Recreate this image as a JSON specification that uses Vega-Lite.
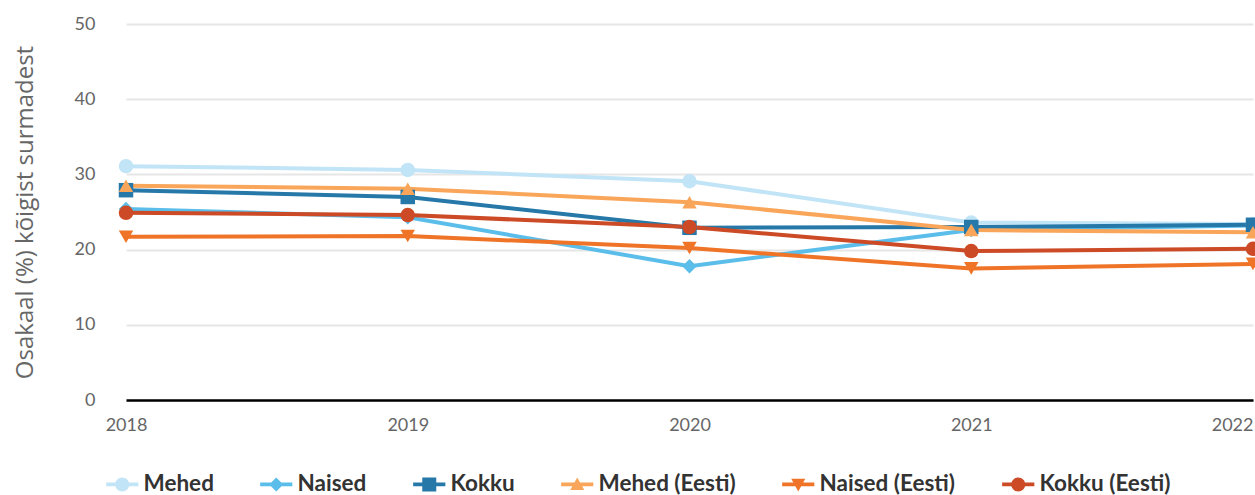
{
  "$schema": "https://vega.github.io/schema/vega-lite/v6.json",
  "width": 1127,
  "height": 376,
  "autosize": {"type": "none"},
  "padding": {"left": 126, "top": 24, "right": 2, "bottom": 95},
  "background": "white",
  "config": {"view": {"stroke": null}},
  "data": {"values": [
    {"year": 2018, "series": "Mehed", "value": 31.1},
    {"year": 2019, "series": "Mehed", "value": 30.6},
    {"year": 2020, "series": "Mehed", "value": 29.1},
    {"year": 2021, "series": "Mehed", "value": 23.6},
    {"year": 2022, "series": "Mehed", "value": 23.4},
    {"year": 2018, "series": "Naised", "value": 25.4},
    {"year": 2019, "series": "Naised", "value": 24.3},
    {"year": 2020, "series": "Naised", "value": 17.8},
    {"year": 2021, "series": "Naised", "value": 22.6},
    {"year": 2022, "series": "Naised", "value": 23.2},
    {"year": 2018, "series": "Kokku", "value": 27.9},
    {"year": 2019, "series": "Kokku", "value": 27.0},
    {"year": 2020, "series": "Kokku", "value": 22.9},
    {"year": 2021, "series": "Kokku", "value": 23.0},
    {"year": 2022, "series": "Kokku", "value": 23.3},
    {"year": 2018, "series": "Mehed (Eesti)", "value": 28.5},
    {"year": 2019, "series": "Mehed (Eesti)", "value": 28.1},
    {"year": 2020, "series": "Mehed (Eesti)", "value": 26.3},
    {"year": 2021, "series": "Mehed (Eesti)", "value": 22.6},
    {"year": 2022, "series": "Mehed (Eesti)", "value": 22.3},
    {"year": 2018, "series": "Naised (Eesti)", "value": 21.7},
    {"year": 2019, "series": "Naised (Eesti)", "value": 21.8},
    {"year": 2020, "series": "Naised (Eesti)", "value": 20.2},
    {"year": 2021, "series": "Naised (Eesti)", "value": 17.5},
    {"year": 2022, "series": "Naised (Eesti)", "value": 18.1},
    {"year": 2018, "series": "Kokku (Eesti)", "value": 24.9},
    {"year": 2019, "series": "Kokku (Eesti)", "value": 24.6},
    {"year": 2020, "series": "Kokku (Eesti)", "value": 23.0},
    {"year": 2021, "series": "Kokku (Eesti)", "value": 19.8},
    {"year": 2022, "series": "Kokku (Eesti)", "value": 20.1}
  ]},
  "encoding": {
    "x": {
      "field": "year", "type": "quantitative",
      "scale": {"domain": [2018, 2022], "nice": false, "zero": false},
      "axis": {
        "values": [2018, 2019, 2020, 2021, 2022], "format": "d", "title": null,
        "grid": false, "ticks": false,
        "domainColor": "#000000", "domainWidth": 2.5,
        "labelFont": "Lato", "labelFontSize": 18, "labelColor": "#666666",
        "labelPadding": 16,
        "labelAlign": {"expr": "datum.value == 2022 ? 'right' : 'center'"},
        "zindex": 2
      }
    },
    "y": {
      "field": "value", "type": "quantitative",
      "scale": {"domain": [0, 50], "nice": false},
      "axis": {
        "values": [0, 10, 20, 30, 40, 50],
        "title": "Osakaal (%) kõigist surmadest",
        "titleFont": "Open Sans", "titleFontSize": 24, "titleFontWeight": "normal",
        "titleColor": "#666666", "titlePadding": 37,
        "domain": false, "ticks": false,
        "gridColor": "#e6e6e6", "gridWidth": 2,
        "labelFont": "Lato", "labelFontSize": 18, "labelColor": "#666666",
        "labelPadding": 31
      }
    }
  },
  "layer": [
    {
      "mark": {"type": "line", "strokeWidth": 4, "clip": false},
      "encoding": {
        "color": {
          "field": "series", "type": "nominal", "legend": null,
          "scale": {
            "domain": ["Mehed", "Naised", "Kokku", "Mehed (Eesti)", "Naised (Eesti)", "Kokku (Eesti)"],
            "range": ["#c1e4f7", "#5bbde9", "#2678a8", "#f9a65a", "#ef7427", "#cc4a26"]
          }
        }
      }
    },
    {
      "mark": {"type": "point", "filled": true, "opacity": 1, "size": 210, "clip": false},
      "encoding": {
        "color": {
          "field": "series", "type": "nominal", "legend": null,
          "scale": {
            "domain": ["Mehed", "Naised", "Kokku", "Mehed (Eesti)", "Naised (Eesti)", "Kokku (Eesti)"],
            "range": ["#c1e4f7", "#5bbde9", "#2678a8", "#f9a65a", "#ef7427", "#cc4a26"]
          }
        },
        "shape": {
          "field": "series", "type": "nominal", "legend": null,
          "scale": {
            "domain": ["Mehed", "Naised", "Kokku", "Mehed (Eesti)", "Naised (Eesti)", "Kokku (Eesti)"],
            "range": ["circle", "diamond", "square", "triangle-up", "triangle-down", "circle"]
          }
        }
      }
    },
    {
      "transform": [{"filter": "false"}],
      "mark": {"type": "point", "filled": true, "opacity": 1, "size": 196},
      "encoding": {
        "color": {
          "field": "series", "type": "nominal",
          "scale": {
            "domain": ["Mehed", "Naised", "Kokku", "Mehed (Eesti)", "Naised (Eesti)", "Kokku (Eesti)"],
            "range": ["#c1e4f7", "#5bbde9", "#2678a8", "#f9a65a", "#ef7427", "#cc4a26"]
          },
          "legend": {
            "title": null, "orient": "none", "direction": "horizontal",
            "legendX": -15, "legendY": 449,
            "symbolSize": 196, "symbolStrokeWidth": 0, "symbolOpacity": 1,
            "labelFont": "Lato", "labelFontSize": 22.5, "labelFontWeight": "bold",
            "labelColor": "#333333", "labelOffset": 10, "columnPadding": 46,
            "labelLimit": 300
          }
        },
        "shape": {
          "field": "series", "type": "nominal",
          "scale": {
            "domain": ["Mehed", "Naised", "Kokku", "Mehed (Eesti)", "Naised (Eesti)", "Kokku (Eesti)"],
            "range": [
              "M-2.3,-0.28H2.3V0.28H-2.3Z M-1,0A1,1,0,1,1,1,0A1,1,0,1,1,-1,0Z",
              "M-2.3,-0.28H2.3V0.28H-2.3Z M0,-1L1,0L0,1L-1,0Z",
              "M-2.3,-0.28H2.3V0.28H-2.3Z M-1,-1H1V1H-1Z",
              "M-2.3,-0.28H2.3V0.28H-2.3Z M0,-1L1,0.8L-1,0.8Z",
              "M-2.3,-0.28H2.3V0.28H-2.3Z M-1,-0.8L1,-0.8L0,1Z",
              "M-2.3,-0.28H2.3V0.28H-2.3Z M-1,0A1,1,0,1,1,1,0A1,1,0,1,1,-1,0Z"
            ]
          },
          "legend": {
            "title": null, "orient": "none", "direction": "horizontal",
            "legendX": -15, "legendY": 449,
            "symbolSize": 196, "symbolStrokeWidth": 0, "symbolOpacity": 1,
            "labelFont": "Lato", "labelFontSize": 22.5, "labelFontWeight": "bold",
            "labelColor": "#333333", "labelOffset": 10, "columnPadding": 46,
            "labelLimit": 300
          }
        }
      }
    }
  ],
  "resolve": {"scale": {"color": "independent", "shape": "independent"}}
}
